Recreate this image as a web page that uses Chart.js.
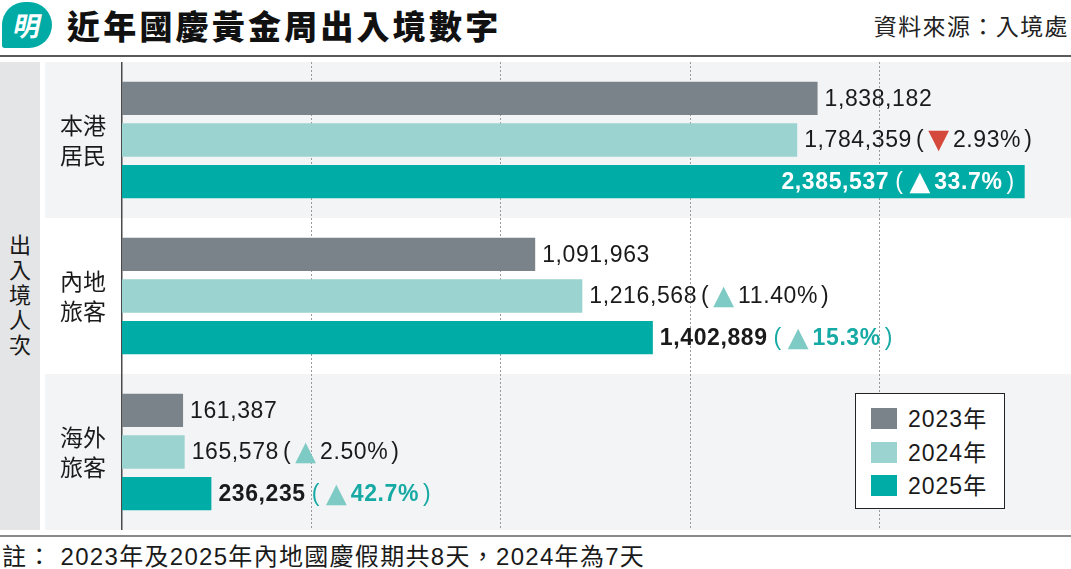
<!DOCTYPE html>
<html>
<head>
<meta charset="utf-8">
<script src="https://cdn.jsdelivr.net/npm/chart.js@4"></script>
<style>
  html, body { margin:0; padding:0; background:#fff; }
  body { width:1071px; height:569px; position:relative; overflow:hidden;
         font-family:"Liberation Sans","Noto Sans CJK TC",sans-serif; color:#1a1a1a; }
  #logo { position:absolute; left:2px; top:2px; width:50px; height:46px; background:#00aba5;
          border-radius:25px 25px 25px 3px; color:#fff; font-family:"Noto Sans CJK TC"; font-weight:700;
          font-size:27px; line-height:46px; text-align:center; }
  #logo span { display:inline-block; transform:skewX(-12deg); }
  #title { position:absolute; left:67px; top:3px; font-family:"Noto Sans CJK TC"; font-weight:900;
           font-size:33px; letter-spacing:3.2px; line-height:44px; color:#111; }
  #source { position:absolute; right:2px; top:8px; font-size:23px; letter-spacing:1.4px; line-height:34px;
            font-family:"Noto Sans CJK TC"; color:#222; }
  #rule1 { position:absolute; left:0; top:55px; width:1071px; height:2px; background:#5a5a5a; }
  #side { position:absolute; left:0; top:62px; width:40px; height:468px; background:#e4e5e6;
          display:flex; align-items:center; justify-content:center; }
  #side div { writing-mode:vertical-rl; text-orientation:upright; font-family:"Noto Sans CJK TC";
              font-size:22px; letter-spacing:3px; color:#1a1a1a; }
  #chartwrap { position:absolute; left:45px; top:62px; width:1026px; height:468px; }
  #rule2 { position:absolute; left:0; top:535px; width:1071px; height:2px; background:#8a8a8a; }
  #note { position:absolute; left:2px; top:540px; font-size:24px; line-height:34px; letter-spacing:1.3px; color:#1a1a1a; white-space:nowrap; }
  #legend { position:absolute; left:855px; top:393px; width:148px; height:114px; background:#fff;
            border:1.5px solid #222; }
  .li { position:absolute; left:15px; height:22px; }
  .sw { position:absolute; left:0; top:0; width:26px; height:21px; }
  .lt { position:absolute; left:37px; top:-6px; font-size:23px; line-height:34px; white-space:nowrap; letter-spacing:1px; color:#1a1a1a; }
</style>
</head>
<body>
<div id="logo"><span>明</span></div>
<div id="title">近年國慶黃金周出入境數字</div>
<div id="source">資料來源：入境處</div>
<div id="rule1"></div>
<div id="side"><div>出入境人次</div></div>
<div id="chartwrap"><canvas id="c" width="1026" height="468"></canvas></div>
<div id="legend"></div>
<div id="rule2"></div>
<div id="note">註： 2023年及2025年內地國慶假期共8天，2024年為7天</div>
<script>
// ---- data ----
const categories = [['本港','居民'], ['內地','旅客'], ['海外','旅客']];
const years = ['2023年', '2024年', '2025年'];
const values2023 = [1838182, 1091963, 161387];
const values2024 = [1784359, 1216568, 165578];
const values2025 = [2385537, 1402889, 236235];
const change2024 = ['2.93%', '11.40%', '2.50%'];
const dir2024 = [-1, 1, 1];
const change2025 = ['33.7%', '15.3%', '42.7%'];
const dir2025 = [1, 1, 1];
const axisMax = 2500000;
const axisStep = 500000;

const colors = ['#7a8389', '#9ad3cf', '#00aca6'];
const TEAL_TXT = '#17aaa4', TRI_UP = '#7ecac4', TRI_DOWN = '#d5493c', TXT = '#1a1a1a';
const NUM = '23px "Liberation Sans", Arial, sans-serif';
const NUMB = 'bold 23px "Liberation Sans", Arial, sans-serif';
const TRI = '27px "DejaVu Sans", sans-serif';

// legend (HTML, built from data)
const lg = document.getElementById('legend');
years.forEach((y, i) => {
  const d = document.createElement('div');
  d.className = 'li';
  d.style.top = (14 + i * 33.5) + 'px';
  d.innerHTML = '<div class="sw" style="background:' + colors[i] + '"></div><div class="lt">' + y + '</div>';
  lg.appendChild(d);
});

const fmt = v => v.toLocaleString('en-US');

function segments(di, i) {
  if (di === 0) return [{t: fmt(values2023[i]), f: NUM, c: TXT, g: 0}];
  if (di === 1) return [
    {t: fmt(values2024[i]), f: NUM, c: TXT, g: 0},
    {t: '(', f: NUM, c: TXT, g: 4},
    {t: dir2024[i] < 0 ? '▼' : '▲', f: TRI, c: dir2024[i] < 0 ? TRI_DOWN : TRI_UP, g: 4, dy: 0},
    {t: change2024[i], f: NUM, c: TXT, g: 4},
    {t: ')', f: NUM, c: TXT, g: 3}
  ];
  return [
    {t: fmt(values2025[i]), f: NUMB, c: TXT, g: 0},
    {t: '(', f: NUM, c: TEAL_TXT, g: 6},
    {t: dir2025[i] < 0 ? '▼' : '▲', f: TRI, c: TRI_UP, g: 6, dy: 0},
    {t: change2025[i], f: NUMB, c: TEAL_TXT, g: 4},
    {t: ')', f: NUM, c: TEAL_TXT, g: 4}
  ];
}

const bandPlugin = {
  id: 'bands',
  beforeDraw(chart) {
    const {ctx, chartArea} = chart;
    const ys = chart.scales.y, xs = chart.scales.x;
    const h = (ys.getPixelForValue(1) - ys.getPixelForValue(0));
    ctx.save();
    categories.forEach((c, i) => {
      const cy = ys.getPixelForValue(i);
      ctx.fillStyle = (i % 2 === 0) ? '#f3f4f6' : '#ffffff';
      ctx.fillRect(0, cy - h / 2, chart.width, h);
    });
    // dotted vertical gridlines
    ctx.strokeStyle = '#9a9a9a';
    ctx.lineWidth = 1;
    ctx.setLineDash([2, 2]);
    xs.ticks.forEach(tk => {
      if (tk.value <= 0 || tk.value >= axisMax) return;
      const x = Math.round(xs.getPixelForValue(tk.value)) + 0.5;
      ctx.beginPath();
      ctx.moveTo(x, chartArea.top);
      ctx.lineTo(x, chartArea.bottom);
      ctx.stroke();
    });
    ctx.restore();
  }
};

const labelPlugin = {
  id: 'barLabels',
  afterDatasetsDraw(chart) {
    const {ctx, chartArea} = chart;
    ctx.save();
    ctx.textBaseline = 'middle';
    ctx.textAlign = 'left';
    chart.data.datasets.forEach((ds, di) => {
      const meta = chart.getDatasetMeta(di);
      meta.data.forEach((bar, i) => {
        const segs = segments(di, i);
        let total = 0;
        segs.forEach(s => {
          ctx.font = s.f;
          ctx.letterSpacing = (s.f === TRI) ? '0px' : '0.6px';
          s.w = ctx.measureText(s.t).width;
          total += s.w + s.g;
        });
        let x = bar.x + 7;
        let inside = false;
        if (x + total > chartArea.right) { inside = true; x = bar.x - 10 - total; }
        segs.forEach(s => {
          x += s.g;
          ctx.font = s.f;
          ctx.letterSpacing = (s.f === TRI) ? '0px' : '0.6px';
          ctx.fillStyle = inside ? '#ffffff' : s.c;
          ctx.fillText(s.t, x, bar.y + 1 + (s.dy || 0));
          x += s.w;
        });
      });
    });
    ctx.restore();
  }
};

new Chart(document.getElementById('c'), {
  type: 'bar',
  data: {
    labels: categories,
    datasets: [
      {label: years[0], data: values2023, backgroundColor: colors[0]},
      {label: years[1], data: values2024, backgroundColor: colors[1]},
      {label: years[2], data: values2025, backgroundColor: colors[2]}
    ]
  },
  options: {
    indexAxis: 'y',
    responsive: false,
    animation: false,
    devicePixelRatio: 1,
    categoryPercentage: 0.8,
    barPercentage: 0.8,
    layout: {padding: {left: 0, right: 3, top: 0, bottom: 0}},
    plugins: {legend: {display: false}, tooltip: {enabled: false}},
    scales: {
      x: {
        display: false,
        min: 0, max: axisMax,
        ticks: {stepSize: axisStep}
      },
      y: {
        afterFit(scale) { scale.width = 77; scale.paddingTop = 0; scale.paddingBottom = 0; },
        grid: {display: false, drawTicks: false},
        border: {display: true, color: '#4a4a4a', width: 1.5},
        ticks: {
          padding: 16,
          color: '#1a1a1a',
          font: {family: '"Noto Sans CJK TC", sans-serif', size: 23, lineHeight: 1.32}
        }
      }
    }
  },
  plugins: [bandPlugin, labelPlugin]
});
</script>
</body>
</html>
